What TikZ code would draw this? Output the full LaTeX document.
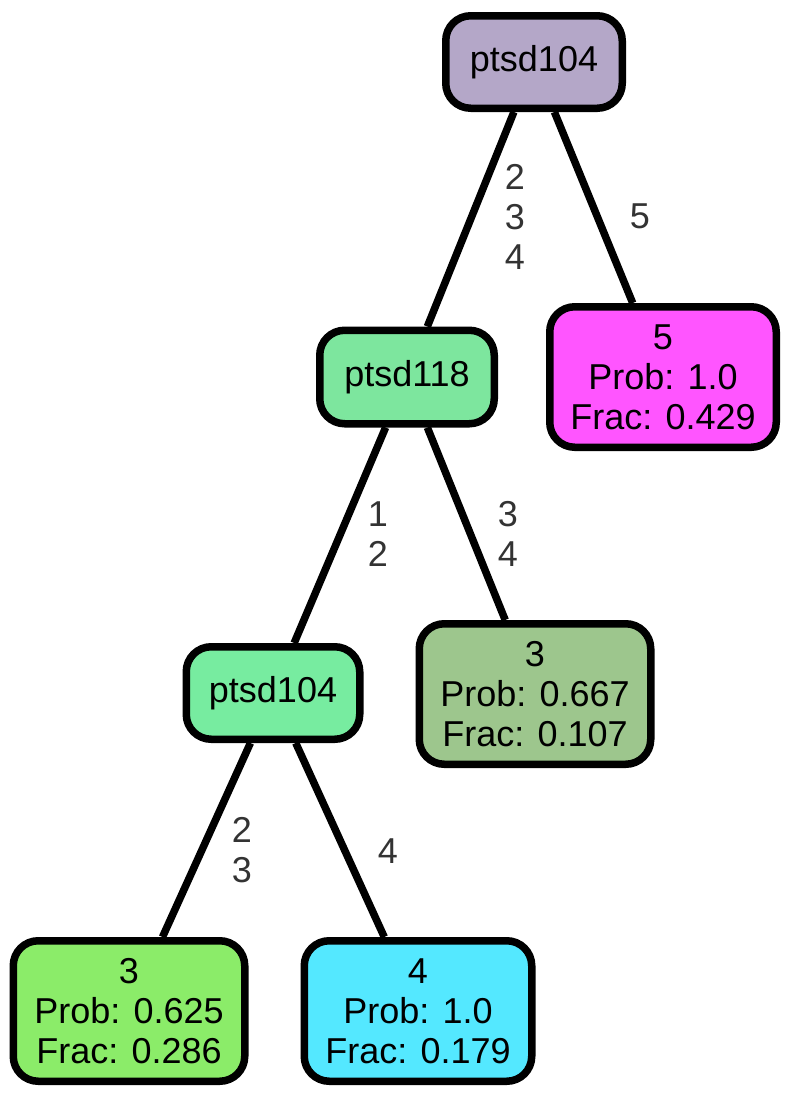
\documentclass[tikz,border=0pt]{standalone}
\usepackage{fontspec}
\setmainfont{Liberation Sans}
\definecolor{croot}{HTML}{B4A7C8}
\definecolor{cpa}{HTML}{7DE69E}
\definecolor{cpb}{HTML}{77ECA0}
\definecolor{cfive}{HTML}{FF55FF}
\definecolor{cthreea}{HTML}{9DC68D}
\definecolor{cthreeb}{HTML}{8BEC69}
\definecolor{cfour}{HTML}{54E8FF}
\definecolor{elab}{HTML}{333333}
\begin{document}
\begin{tikzpicture}[x=1pt,y=-1pt,
  box/.style={draw=black, line width=7.5pt, rounded corners=25pt, align=center, inner sep=0pt,
    font=\fontsize{36}{40}\selectfont},
  inner/.style={box, minimum width=174.5pt, minimum height=92.5pt},
  leaf/.style={box, minimum width=229pt, minimum height=140.5pt},
  edge/.style={line width=7.5pt, draw=black},
  elabel/.style={text=elab, align=center, font=\fontsize{36}{40}\selectfont, inner sep=0pt}]
\useasboundingbox (0,0) rectangle (793,1096);
\node[inner, fill=croot, minimum width=176.5pt] (root) at (534,62) {ptsd104};
\node[inner, fill=cpa, minimum height=93.5pt] (n118) at (407,377) {ptsd118};
\node[leaf, fill=cfive, minimum width=226.5pt] (l5) at (663,377) {5\\Prob: 1.0\\Frac: 0.429};
\node[inner, fill=cpb, minimum width=173.5pt] (n104) at (273,693) {ptsd104};
\node[leaf, fill=cthreea, minimum width=231.5pt] (l3a) at (535,694) {3\\Prob: 0.667\\Frac: 0.107};
\node[leaf, fill=cthreeb, minimum width=231.5pt] (l3b) at (129,1011) {3\\Prob: 0.625\\Frac: 0.286};
\node[leaf, fill=cfour, minimum width=227.5pt] (l4) at (418,1011) {4\\Prob: 1.0\\Frac: 0.179};
\draw[edge] (root) -- (n118);
\draw[edge] (root) -- (l5);
\draw[edge] (n118) -- (n104);
\draw[edge] (n118) -- (l3a);
\draw[edge] (n104) -- (l3b);
\draw[edge] (n104) -- (l4);
\node[elabel] (e1) at (515,217) {2\\3\\4};
\node[elabel] (e2) at (640,216) {5};
\node[elabel] (e3) at (378,534) {1\\2};
\node[elabel] (e4) at (508,534) {3\\4};
\node[elabel] (e5) at (242,850) {2\\3};
\node[elabel] (e6) at (388,851) {4};
\end{tikzpicture}
\end{document}
